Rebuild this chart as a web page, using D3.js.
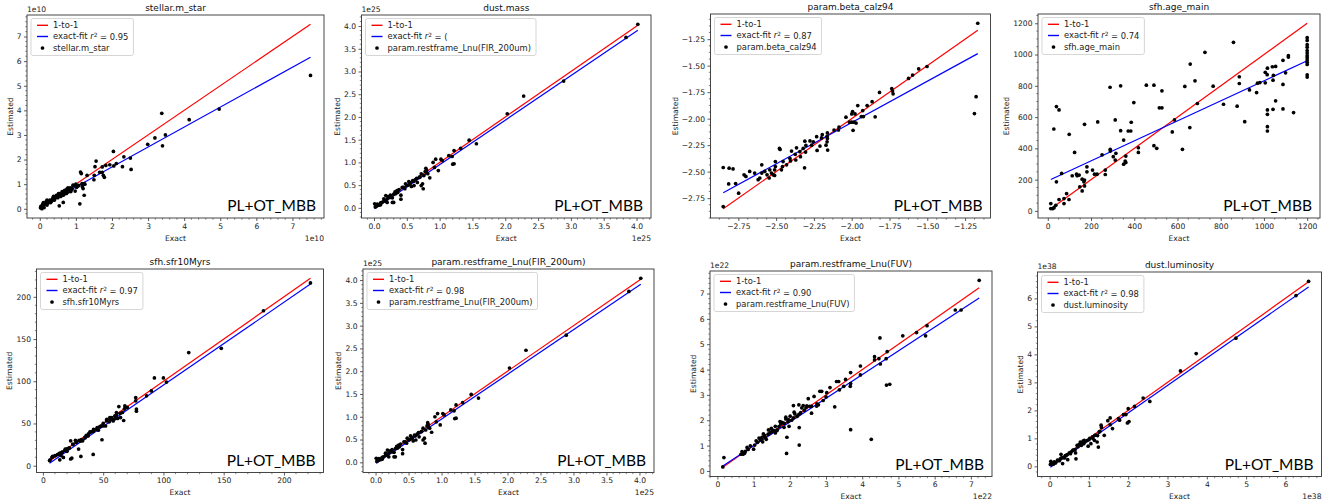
<!DOCTYPE html>
<html><head><meta charset="utf-8">
<script src="https://cdn.jsdelivr.net/npm/d3@7"></script>
<style>body{margin:0;background:#fff}svg{display:block}</style>
</head><body>
<svg id="c" width="1343" height="503"></svg>
<script>
// ---------------- DATA ----------------
const panelTitles = ["stellar.m_star","dust.mass","param.beta_calz94","sfh.age_main",
  "sfh.sfr10Myrs","param.restframe_Lnu(FIR_200um)","param.restframe_Lnu(FUV)","dust.luminosity"];
const pointLabels = ["stellar.m_star","param.restframe_Lnu(FIR_200um)","param.beta_calz94","sfh.age_main",
  "sfh.sfr10Myrs","param.restframe_Lnu(FIR_200um)","param.restframe_Lnu(FUV)","dust.luminosity"];
const r2Labels = ["0.95","(","0.87","0.74","0.97","0.98","0.90","0.98"];
const fitSlopes = [0.81, 0.98, 0.78, 0.64, 0.98, 0.98, 0.936, 0.98];
const fitIntercepts = [0.08, -0.03, -0.477, 192, -2.5, -0.03, 0.06, -0.05];
const offsetLabels = ["1e10","1e25","","","","1e25","1e22","1e38"];
const tagLabel = "PL+OT_MBB";

const xTickValues = [
  [0,1,2,3,4,5,6,7],
  [0,0.5,1,1.5,2,2.5,3,3.5,4],
  [-2.75,-2.5,-2.25,-2,-1.75,-1.5,-1.25],
  [0,200,400,600,800,1000,1200],
  [0,50,100,150,200],
  [0,0.5,1,1.5,2,2.5,3,3.5,4],
  [0,1,2,3,4,5,6,7],
  [0,1,2,3,4,5,6]
];
const yTickValues = [
  [0,1,2,3,4,5,6,7],
  [0,0.5,1,1.5,2,2.5,3,3.5,4],
  [-2.75,-2.5,-2.25,-2,-1.75,-1.5,-1.25],
  [0,200,400,600,800,1000,1200],
  [0,50,100,150,200],
  [0,0.5,1,1.5,2,2.5,3,3.5,4],
  [0,1,2,3,4,5,6,7],
  [0,1,2,3,4,5,6]
];
const tickDecimals = [0,1,2,0,0,1,0,0];
const minorSteps = [0.2,0.1,0.0625,50,10,0.1,0.2,0.2];

const mstarPts = [[7.5,5.42],[4.97,4.05],[4.14,3.62],[3.38,3.88],[3.48,3.0],[3.19,2.88],[3.4,2.56],[2.99,2.62],
 [2.51,2.06],[2.53,1.6],[2.33,2.11],[2.29,1.71],[2.04,2.33],[2.12,1.84],[2.05,1.74],[1.94,1.79],[1.83,1.76],
 [1.56,1.94],[1.53,1.71],[1.51,1.36],[1.5,1.18],[1.73,1.7],[1.73,1.48],[1.66,1.48],[1.76,1.36],[1.79,1.28],
 [1.31,1.36],[1.15,1.43],[1.13,1.49],[1.11,0.2],[1.23,0.55],[1.23,1.02],[1.2,0.82],[1.17,1.02],[1.02,0.87],
 [0.92,0.96],[0.83,0.82],[0.79,0.69],[0.74,0.62],[0.69,0.75],[0.65,0.55],[0.55,0.62],[0.54,0.12],[0.65,0.26],
 [0.46,0.55],[0.37,0.44],[0.28,0.35],[0.18,0.26],[0.09,0.15],[0.05,0.08],[0.02,0.04],
 [0.1,0.12],[0.15,0.2],[0.2,0.15],[0.25,0.28],[0.3,0.25],[0.35,0.4],[0.4,0.35],[0.45,0.48],[0.5,0.45],
 [0.55,0.55],[0.6,0.58],[0.65,0.68],[0.7,0.65],[0.75,0.8],[0.8,0.78],[0.85,0.85],[0.9,0.82],[0.95,0.95],
 [1.0,1.0],[1.05,0.92],[0.12,0.05],[0.08,0.18],[0.18,0.3],[0.22,0.22],[0.28,0.32],[0.32,0.3],[0.38,0.5],
 [0.42,0.42],[0.48,0.52],[0.52,0.62],[0.58,0.5],[0.62,0.7],[0.68,0.6],[0.72,0.72],[0.78,0.85],[0.88,0.78],
 [0.03,0.1],[0.06,0.0],[0.1,0.25],[0.2,0.35],[1.08,0.95],[1.18,0.9],[1.25,1.0],[0.98,0.72],[0.86,0.7]];

const firPts = [[4.02,4.04],[3.84,3.75],[2.89,2.79],[2.28,2.46],[2.03,2.07],[1.45,1.49],[1.56,1.41],[1.32,1.31],
 [1.22,1.26],[1.19,1.13],[1.22,0.97],[1.2,0.96],[1.14,1.15],[1.04,1.04],[1.02,1.07],[0.94,1.07],[0.9,1.0],
 [0.98,0.82],[0.92,0.89],[0.85,0.66],[0.79,0.87],[0.8,0.78],[0.76,0.71],[0.74,0.53],[0.75,0.42],[0.72,0.49],
 [0.69,0.67],[0.66,0.56],[0.61,0.49],[0.59,0.6],[0.55,0.53],[0.53,0.58],[0.5,0.49],[0.48,0.53],[0.43,0.45],
 [0.41,0.19],[0.41,0.28],[0.36,0.34],[0.33,0.31],[0.28,0.12],[0.3,0.12],[0.25,0.23],[0.2,0.12],[0.18,0.27],
 [0.15,0.2],[0.1,0.11],[0.05,0.05],[0.01,0.09],[0.02,0.02],
 [0.05,0.08],[0.08,0.06],[0.12,0.12],[0.15,0.15],[0.2,0.2],[0.22,0.25],[0.25,0.28],[0.3,0.3],[0.32,0.35],
 [0.35,0.38],[0.38,0.4],[0.45,0.45],[0.52,0.5],[0.55,0.55],[0.6,0.58],[0.63,0.62],[0.65,0.65],[0.7,0.68],
 [0.72,0.75],[0.78,0.8],[0.8,0.83],[0.82,0.75],[0.57,0.47],[0.47,0.42],[0.28,0.22],[0.18,0.15],[0.1,0.07],[0.03,0.04]];

const betaPts = [[-1.166,-1.10],[-1.177,-1.793],[-1.188,-1.952],[-1.502,-1.508],[-1.557,-1.53],[-1.597,-1.589],
 [-1.624,-1.62],[-1.735,-1.716],[-1.73,-1.74],[-1.726,-1.766],[-1.816,-1.753],[-1.865,-1.84],[-1.845,-1.983],
 [-1.898,-1.877],[-1.927,-1.924],[-1.96,-1.877],[-1.923,-1.98],[-1.936,-1.98],[-1.994,-1.933],[-1.978,-1.955],
 [-2.0,-1.955],[-2.038,-1.986],[-1.991,-2.11],[-1.985,-2.033],[-1.971,-2.042],[-2.0,-2.033],[-2.015,-2.033],
 [-2.084,-2.079],[-2.088,-2.107],[-2.117,-2.107],[-2.161,-2.135],[-2.163,-2.166],[-2.161,-2.188],[-2.163,-2.219],
 [-2.159,-2.297],[-2.17,-2.25],[-2.195,-2.151],[-2.2,-2.182],[-2.21,-2.259],[-2.232,-2.17],[-2.229,-2.3],
 [-2.254,-2.219],[-2.265,-2.25],[-2.276,-2.21],[-2.31,-2.213],[-2.303,-2.253],[-2.305,-2.315],[-2.321,-2.281],
 [-2.343,-2.312],[-2.339,-2.359],[-2.365,-2.275],[-2.374,-2.337],[-2.37,-2.39],[-2.398,-2.306],[-2.409,-2.374],
 [-2.405,-2.399],[-2.431,-2.436],[-2.454,-2.405],[-2.458,-2.452],[-2.465,-2.483],[-2.478,-2.281],[-2.474,-2.29],
 [-2.312,-2.464],[-2.505,-2.405],[-2.505,-2.452],[-2.51,-2.483],[-2.51,-2.536],[-2.52,-2.53],[-2.531,-2.514],
 [-2.542,-2.483],[-2.546,-2.56],[-2.56,-2.53],[-2.575,-2.498],[-2.595,-2.436],[-2.595,-2.514],[-2.608,-2.56],
 [-2.619,-2.576],[-2.642,-2.514],[-2.675,-2.498],[-2.7,-2.545],[-2.712,-2.53],[-2.748,-2.703],[-2.768,-2.613],
 [-2.814,-2.616],[-2.785,-2.474],[-2.811,-2.467],[-2.85,-2.461],[-2.85,-2.83]];

const agePts = [[14,47],[14,15],[23,15],[29,21],[37,36],[28,524],[40,667],[52,646],[40,186],[52,73],[64,240],
 [75,79],[75,47],[87,111],[98,73],[99,490],[113,225],[124,374],[133,235],[136,225],[145,229],[148,154],
 [159,128],[159,203],[170,197],[170,160],[170,554],[167,186],[181,282],[181,250],[207,261],[216,235],[228,235],
 [231,569],[251,359],[266,261],[266,233],[288,791],[289,394],[289,383],[303,347],[312,582],[315,368],[312,325],
 [337,800],[337,513],[351,453],[351,299],[361,351],[358,319],[361,310],[372,511],[384,511],[386,567],[398,693],
 [419,404],[419,374],[456,804],[491,417],[491,804],[504,400],[516,659],[528,659],[528,768],[576,505],[586,582],
 [623,394],[634,796],[657,533],[659,939],[681,832],[692,687],[727,1014],[765,798],[813,682],[859,1078],[876,670],
 [886,858],[886,815],[911,571],[933,774],[966,757],[970,817],[981,821],[1006,886],[1006,819],[1016,913],
 [1016,511],[1016,539],[1016,646],[1016,618],[1015,871],[1039,922],[1042,836],[1042,650],[1044,867],[1054,924],
 [1054,704],[1088,963],[1088,809],[1088,652],[1100,883],[1113,984],[1113,993],[1137,629],
 [1200,1108],[1200,1090],[1200,1063],[1200,1047],[1200,1026],[1200,1010],[1200,993],[1200,980],[1200,965],
 [1200,950],[1200,937],[1200,870],[1200,856]];

const sfrPts = [[222,216.5],[183,183.5],[148,139],[121,134],[102.5,99],[100,104],[92.5,104],[90,88.6],[86,82.7],
 [77,80.7],[77,76.8],[77.6,67],[77.6,64.6],[68,71],[67.6,67],[67,53.5],[64.4,57],[63,70],[61,63],[59.7,59],
 [59,55],[58.3,53],[55.5,57],[52.8,53],[52,47],[50,47],[49,30.7],[47,46],[44.5,43],[41.7,40.6],[41.7,13.4],
 [39,40],[37.6,35.4],[34.8,33.5],[33,29.5],[31.5,11],[29.6,19.7],[27.5,27.6],[24.8,25.6],[23,29.5],[23,7.9],
 [24,9],[21,20.5],[18.5,19.7],[17,9.8],[15.7,15.7],[14,7],[13,13.8],[10.2,11.8],[7.5,9.8],[6,7],[5.5,6],
 [8,11],[10,12],[12,13],[14,15],[16,16],[18,18],[20,20],[22,21],[25,25],[28,28],[30,30],[32,31],[35,33],
 [36,36],[38,38],[40,40],[42,43],[45,45],[46,42],[48,47],[50,50],[53,55],[55,52],[56,55],[57,57],[60,56],
 [61,60],[62,56],[64,62],[66,63],[68,68],[70,69],[31,29],[27,30],[20,17],[15,12]];

const fuvPts = [[7.23,7.52],[6.73,6.35],[6.57,6.35],[5.79,5.73],[5.75,5.33],[5.5,5.46],[5.12,5.33],[4.49,5.25],
 [4.69,4.71],[4.66,4.43],[4.46,4.43],[4.34,4.51],[4.34,4.38],[4.5,4.22],[4.76,3.42],[4.67,3.39],[4.25,1.25],
 [3.95,4.14],[3.95,3.79],[3.68,1.63],[3.68,3.45],[3.67,3.34],[3.68,3.88],[3.54,3.61],[3.49,3.34],[3.35,3.53],
 [3.37,3.2],[3.29,3.53],[3.24,2.53],[3.11,3.29],[3.0,2.92],[3.02,3.09],[2.92,2.78],[2.88,3.14],[2.83,3.14],
 [2.67,2.94],[2.79,2.61],[2.74,2.56],[2.51,2.85],[2.6,2.28],[2.47,2.57],[2.37,2.58],[2.33,2.49],[2.25,2.61],
 [2.25,2.23],[2.26,1.71],[2.26,1.02],[2.14,2.25],[2.1,2.58],[2.12,2.32],[2.01,2.16],[1.96,2.03],[1.89,2.12],
 [1.89,2.05],[1.84,1.72],[1.92,1.33],[1.91,0.69],[1.98,1.76],[1.73,1.95],[1.78,1.92],[1.64,1.59],[1.6,1.76],
 [1.5,1.55],[1.49,1.68],[1.41,1.62],[1.32,1.33],[1.27,1.46],[1.23,1.33],[1.18,1.23],[1.11,1.13],[1.07,1.19],
 [1.03,1.02],[1.0,0.86],[0.91,0.99],[0.82,0.93],[0.77,0.77],[0.71,0.66],[0.68,0.76],[0.65,0.66],[0.18,0.53],
 [0.15,0.16],
 [1.2,1.25],[1.3,1.4],[1.35,1.25],[1.45,1.5],[1.55,1.6],[1.6,1.5],[1.65,1.62],[1.7,1.75],[1.75,1.85],[1.8,1.9],
 [1.85,1.88],[1.95,1.95],[2.05,2.0],[2.1,2.1],[2.2,2.15],[2.3,2.3],[2.4,2.4],[2.45,2.5],[2.55,2.55],[2.6,2.55],
 [2.75,2.65],[1.25,1.15],[1.4,1.45],[1.15,1.3],[0.85,0.85],[0.75,0.7]];

const lumPts = [[6.59,6.61],[6.27,6.1],[4.74,4.58],[3.73,4.03],[3.33,3.41],[2.55,2.32],[2.38,2.44],[2.16,2.14],
 [2.0,2.06],[2.02,1.6],[1.98,1.55],[1.94,1.85],[1.88,1.85],[1.75,1.71],[1.78,1.65],[1.6,1.35],[1.54,1.73],
 [1.54,1.49],[1.48,1.63],[1.39,1.11],[1.31,1.47],[1.32,1.39],[1.26,1.23],[1.24,0.69],[1.21,0.87],[1.15,1.11],
 [1.14,0.93],[1.09,1.05],[1.05,0.81],[0.98,0.72],[0.88,0.93],[0.87,0.81],[0.81,0.75],[0.78,0.87],[0.7,0.75],
 [0.67,0.27],[0.66,0.48],[0.59,0.57],[0.53,0.45],[0.46,0.24],[0.42,0.39],[0.33,0.1],[0.29,0.43],[0.27,0.27],
 [0.2,0.22],[0.12,0.16],[0.03,0.18],[0.02,0.07],[0.08,0.1],
 [0.1,0.08],[0.15,0.12],[0.25,0.2],[0.3,0.3],[0.35,0.32],[0.4,0.38],[0.45,0.42],[0.5,0.48],[0.55,0.52],
 [0.6,0.58],[0.65,0.6],[0.72,0.7],[0.75,0.78],[0.8,0.82],[0.85,0.9],[0.9,0.88],[0.95,0.92],[1.0,0.95],
 [1.02,1.0],[1.1,1.0],[1.18,1.12],[1.22,1.1],[1.28,1.25],[0.05,0.12],[0.38,0.3]];

const panelPoints = [mstarPts, firPts, betaPts, agePts, sfrPts, firPts, fuvPts, lumPts];

// ---------------- LAYOUT (axes frames: left, top, right, bottom) ----------------
const frames = [[27,15,324,218],[361.5,15,651,218],[710.5,14,990.5,218],[1038,14,1320,218],
  [36.5,269,323.5,472.5],[363,269,654,472.5],[710,271,992,476.5],[1037.5,272,1321.5,476.5]];

const svg = d3.select("#c");
const FONT = "DejaVu Sans, sans-serif";
const TXT = "#222";

panelPoints.forEach((pts, i) => {
  const [L, T, R, B] = frames[i];
  const g = svg.append("g");
  const xs = pts.map(d => d[0]), ys = pts.map(d => d[1]);
  const [x0, x1] = d3.extent(xs);
  const m = fitSlopes[i], c = fitIntercepts[i];
  const lineY = [x0, x1, m * x0 + c, m * x1 + c];
  const [y0, y1] = d3.extent(ys.concat(lineY));
  const px = (x1 - x0) * 0.05, py = (y1 - y0) * 0.05;
  const x = d3.scaleLinear().domain([x0 - px, x1 + px]).range([L, R]);
  const y = d3.scaleLinear().domain([y0 - py, y1 + py]).range([B, T]);
  const inX = v => v >= x.domain()[0] - 1e-9 && v <= x.domain()[1] + 1e-9;
  const inY = v => v >= y.domain()[0] - 1e-9 && v <= y.domain()[1] + 1e-9;
  const fmt = v => { const s = d3.format("." + tickDecimals[i] + "f")(v); return s.replace("-", "\u2212"); };

  const xt = xTickValues[i].filter(inX), yt = yTickValues[i].filter(inY);
  const xAxis = d3.axisBottom(x).tickValues(xt).tickFormat(fmt).tickSize(3).tickPadding(2.5);
  const yAxis = d3.axisLeft(y).tickValues(yt).tickFormat(fmt).tickSize(3).tickPadding(2.5);
  const gx = g.append("g").attr("transform", `translate(0,${B})`).call(xAxis);
  const gy = g.append("g").attr("transform", `translate(${L},0)`).call(yAxis);
  [gx, gy].forEach(a => {
    a.select(".domain").remove();
    a.selectAll("line").attr("stroke", "#333").attr("stroke-width", 0.8);
    a.selectAll("text").attr("fill", TXT).style("font-family", FONT).style("font-size", "7.6px");
  });
  const ms = minorSteps[i];
  const minor = (dom) => { const a = []; const s = Math.ceil(dom[0] / ms - 1e-9); const e = Math.floor(dom[1] / ms + 1e-9);
    for (let k = s; k <= e; k++) a.push(+(k * ms).toFixed(6)); return a; };
  const xMinor = minor(x.domain()).filter(v => !xt.some(t => Math.abs(t - v) < 1e-6));
  const yMinor = minor(y.domain()).filter(v => !yt.some(t => Math.abs(t - v) < 1e-6));
  g.append("g").selectAll("line").data(xMinor).join("line")
    .attr("x1", d => x(d)).attr("x2", d => x(d)).attr("y1", B).attr("y2", B + 1.7)
    .attr("stroke", "#333").attr("stroke-width", 0.6);
  g.append("g").selectAll("line").data(yMinor).join("line")
    .attr("y1", d => y(d)).attr("y2", d => y(d)).attr("x1", L).attr("x2", L - 1.7)
    .attr("stroke", "#333").attr("stroke-width", 0.6);

  const cid = "clip" + i;
  svg.append("clipPath").attr("id", cid).append("rect").attr("x", L).attr("y", T).attr("width", R - L).attr("height", B - T);
  const plot = g.append("g").attr("clip-path", `url(#${cid})`);
  plot.append("line").attr("x1", x(x0)).attr("y1", y(x0)).attr("x2", x(x1)).attr("y2", y(x1))
    .attr("stroke", "#ff0000").attr("stroke-width", 1.2);
  plot.append("line").attr("x1", x(x0)).attr("y1", y(m * x0 + c)).attr("x2", x(x1)).attr("y2", y(m * x1 + c))
    .attr("stroke", "#0000ff").attr("stroke-width", 1.2);
  plot.append("g").selectAll("circle").data(pts).join("circle")
    .attr("cx", d => x(d[0])).attr("cy", d => y(d[1])).attr("r", 1.85).attr("fill", "#000");

  g.append("rect").attr("x", L).attr("y", T).attr("width", R - L).attr("height", B - T)
    .attr("fill", "none").attr("stroke", "#333").attr("stroke-width", 0.9);

  g.append("text").attr("x", (L + R) / 2).attr("y", T - 4).attr("text-anchor", "middle")
    .style("font-family", FONT).style("font-size", "9px").attr("fill", "#111").text(panelTitles[i]);
  g.append("text").attr("x", (L + R) / 2).attr("y", B + 22.5).attr("text-anchor", "middle")
    .style("font-family", FONT).style("font-size", "7.6px").attr("fill", TXT).text("Exact");
  let maxW = 0; gy.selectAll("text").each(function () { maxW = Math.max(maxW, this.getBBox().width); });
  const ly = (T + B) / 2, lx = L - 5.5 - maxW - 4;
  g.append("text").attr("transform", `translate(${lx},${ly}) rotate(-90)`).attr("text-anchor", "middle")
    .style("font-family", FONT).style("font-size", "7.6px").attr("fill", TXT).text("Estimated");
  if (offsetLabels[i]) {
    g.append("text").attr("x", L).attr("y", T - 3).style("font-family", FONT).style("font-size", "7.6px")
      .attr("fill", TXT).text(offsetLabels[i]);
    g.append("text").attr("x", R).attr("y", B + 22.5).attr("text-anchor", "end").style("font-family", FONT)
      .style("font-size", "7.6px").attr("fill", TXT).text(offsetLabels[i]);
  }
  g.append("text").attr("x", R - 8).attr("y", B - 7).attr("text-anchor", "end")
    .style("font-family", "Lato, 'Open Sans', sans-serif").style("font-size", "15.5px").attr("fill", "#000").text(tagLabel);

  // legend
  const lg = g.append("g").attr("transform", `translate(${L + 4},${T + 3.5})`);
  const box = lg.append("rect").attr("rx", 2).attr("fill", "#fff").attr("fill-opacity", 0.8)
    .attr("stroke", "#ccc").attr("stroke-width", 0.8);
  const rows = [6.8, 18, 29.5];
  const lfs = "8.4px";
  lg.append("line").attr("x1", 6).attr("x2", 17).attr("y1", rows[0]).attr("y2", rows[0]).attr("stroke", "#ff0000").attr("stroke-width", 1.4);
  lg.append("line").attr("x1", 6).attr("x2", 17).attr("y1", rows[1]).attr("y2", rows[1]).attr("stroke", "#0000ff").attr("stroke-width", 1.4);
  lg.append("circle").attr("cx", 11.5).attr("cy", rows[2]).attr("r", 1.85).attr("fill", "#000");
  const tx = 22;
  const t1 = lg.append("text").attr("x", tx).attr("y", rows[0]).attr("dy", "0.35em").style("font-family", FONT).style("font-size", lfs).attr("fill", TXT).text("1-to-1");
  const t2 = lg.append("text").attr("x", tx).attr("y", rows[1]).attr("dy", "0.35em").style("font-family", FONT).style("font-size", lfs).attr("fill", TXT);
  t2.append("tspan").text("exact-fit ");
  t2.append("tspan").style("font-style", "italic").text("r");
  t2.append("tspan").attr("dy", "-0.4em").style("font-size", "5.8px").text("2");
  t2.append("tspan").attr("dy", "0.4em").text(" = " + r2Labels[i]);
  const t3 = lg.append("text").attr("x", tx).attr("y", rows[2]).attr("dy", "0.35em").style("font-family", FONT).style("font-size", lfs).attr("fill", TXT).text(pointLabels[i]);
  const w = Math.max(t1.node().getBBox().width, t2.node().getBBox().width, t3.node().getBBox().width);
  box.attr("x", 0).attr("y", 0).attr("width", tx + w + 5).attr("height", 37);
});
</script>
</body></html>
